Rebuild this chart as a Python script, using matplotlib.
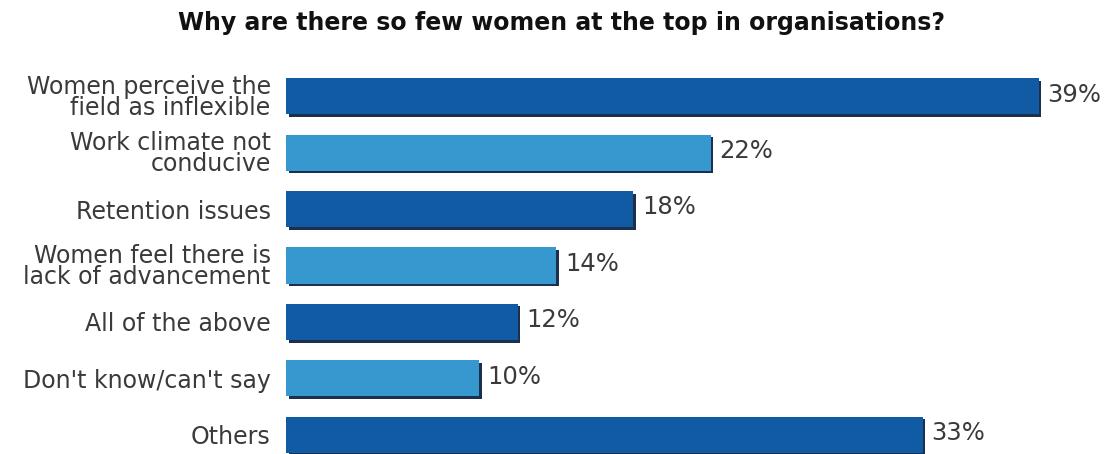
import matplotlib.pyplot as plt
from matplotlib.transforms import ScaledTranslation

labels = ['Women perceive the\nfield as inflexible', 'Work climate not\nconducive', 'Retention issues',
          'Women feel there is\nlack of advancement', 'All of the above', "Don't know/can't say", 'Others']
values = [39, 22, 18, 14, 12, 10, 33]
colors = ['#105ba3', '#3797cf', '#105ba3', '#3797cf', '#105ba3', '#3797cf', '#105ba3']

plt.rcParams['font.family'] = ['DejaVu Sans']

fig = plt.figure(figsize=(11.09, 4.54), dpi=100)
ax = fig.add_axes([286 / 1109, 0, 1 - 286 / 1109, (454 - 68) / 454])

ypos = range(len(values))
# shadow under each bar
shadow = ScaledTranslation(2.5 / 100, -2.5 / 100, fig.dpi_scale_trans)
ax.barh(ypos, values, height=0.64, color='#1c2f4c', transform=ax.transData + shadow, zorder=1)
ax.barh(ypos, values, height=0.64, color=colors, zorder=2)

for y, v in zip(ypos, values):
    ax.text(v + 0.45, y - 0.03, '{}%'.format(v), va='center', ha='left', fontsize=17.5, color='#3a3a3a')

ax.set_xlim(0, (1109 - 286) / 19.3)
ax.set_ylim(6.34, -0.5)
ax.set_yticks(list(ypos))
ax.set_yticklabels(labels, fontsize=17, color='#3a3a3a', linespacing=0.85)
ax.tick_params(axis='y', length=0, pad=11)
ax.set_xticks([])
for s in ax.spines.values():
    s.set_visible(False)

fig.text(0.506, 0.95, 'Why are there so few women at the top in organisations?', ha='center', va='center',
         fontsize=17, fontweight='bold', color='#111111')

plt.savefig('out.png', dpi=100)
plt.close()
